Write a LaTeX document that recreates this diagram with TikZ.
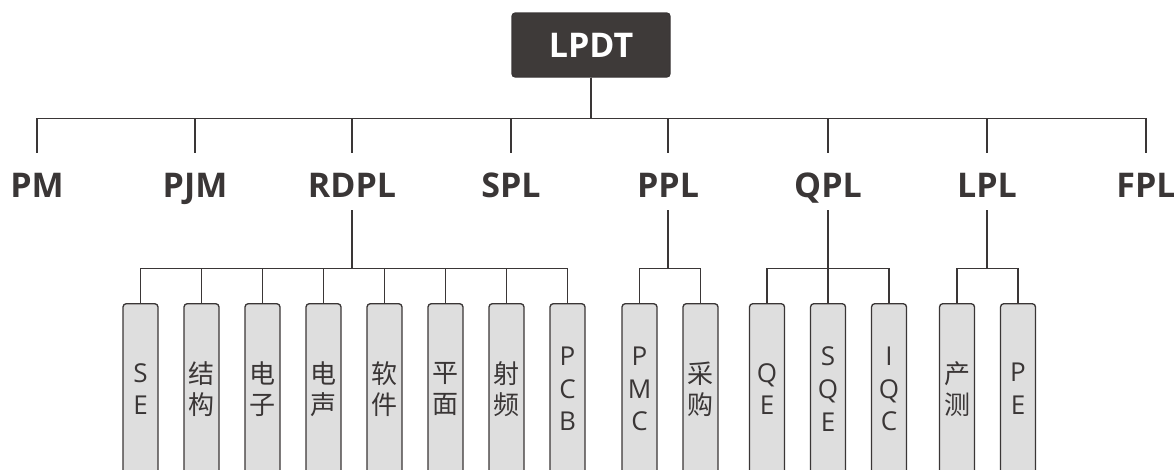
\documentclass[tikz,border=0pt]{standalone}
\usepackage{fontspec}
\setmainfont{Open Sans}
\newfontfamily\cjk{Noto Sans CJK SC}
\definecolor{ink}{HTML}{3A3636}
\definecolor{topfill}{HTML}{3E3A39}
\definecolor{leaffill}{HTML}{DEDEDE}
\begin{document}
\begin{tikzpicture}[x=0.75pt,y=-0.75pt,
  conn/.style={draw=ink,line width=1pt},
  topbox/.style={draw=ink,fill=topfill,rounded corners=2.5pt,line width=1pt,
    minimum width=118.5pt,minimum height=48pt,inner sep=0pt,
    text=white,font=\bfseries\fontsize{25.5}{30}\selectfont},
  lone/.style={anchor=base,inner sep=0pt,text height=33pt,text depth=9.75pt,
    text=ink,font=\bfseries\fontsize{25.5}{30}\selectfont},
  leaf/.style={anchor=north,draw=ink,fill=leaffill,line width=1pt,rounded corners=2.5pt,
    minimum width=26.25pt,minimum height=128pt,inner sep=0pt,align=center,
    text=ink,font=\fontsize{19.5}{24.5}\selectfont},
  leafc/.style={leaf,font=\cjk\fontsize{19.5}{23}\selectfont}]
\useasboundingbox (0,0) rectangle (1174,469);
\clip (0,0) rectangle (1174,469);
% top
\node[topbox] (top) at (591,45) {LPDT};
% level 1
\node[lone] (pm) at (37,197) {PM};
\node[lone] (pjm) at (195,197) {PJM};
\node[lone] (rdpl) at (352,197) {RDPL};
\node[lone] (spl) at (511,197) {SPL};
\node[lone] (ppl) at (668,197) {PPL};
\node[lone] (qpl) at (828,197) {QPL};
\node[lone] (lpl) at (987,197) {LPL};
\node[lone] (fpl) at (1146,197) {FPL};
\foreach \n in {pm,pjm,rdpl,spl,ppl,qpl,lpl,fpl}
  \draw[conn] (top.south) -- ++(0,41) -| (\n.north);
% leaves
\node[leaf]  (se)  at (140.5,303) {S\\E};
\node[leafc] (jg)  at (201.5,303) {结\\构};
\node[leafc] (dz)  at (262.5,303) {电\\子};
\node[leafc] (ds)  at (323.5,303) {电\\声};
\node[leafc] (rj)  at (384.5,303) {软\\件};
\node[leafc] (pmn) at (445.5,303) {平\\面};
\node[leafc] (sp)  at (506.5,303) {射\\频};
\node[leaf]  (pcb) at (567.5,303) {P\\C\\B};
\foreach \n in {se,jg,dz,ds,rj,pmn,sp,pcb}
  \draw[conn] (rdpl.south) -- ++(0,58) -| (\n.north);
\node[leaf]  (pmc) at (639.5,303) {P\\M\\C};
\node[leafc] (cg)  at (700.5,303) {采\\购};
\foreach \n in {pmc,cg}
  \draw[conn] (ppl.south) -- ++(0,58) -| (\n.north);
\node[leaf] (qe)  at (767,303) {Q\\E};
\node[leaf] (sqe) at (828,303) {S\\Q\\E};
\node[leaf] (iqc) at (889,303) {I\\Q\\C};
\foreach \n in {qe,sqe,iqc}
  \draw[conn] (qpl.south) -- ++(0,58) -| (\n.north);
\node[leafc] (cc) at (957,303) {产\\测};
\node[leaf]  (pe) at (1018,303) {P\\E};
\foreach \n in {cc,pe}
  \draw[conn] (lpl.south) -- ++(0,58) -| (\n.north);
\end{tikzpicture}
\end{document}
